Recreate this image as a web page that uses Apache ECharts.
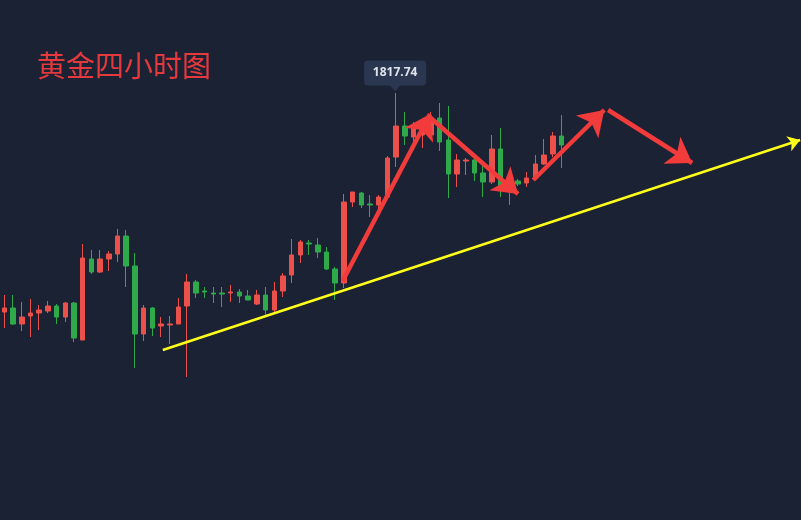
<!DOCTYPE html>
<html>
<head>
<meta charset="utf-8">
<script src="https://cdn.jsdelivr.net/npm/echarts@6/dist/echarts.min.js"></script>
<style>
html,body{margin:0;padding:0;background:#1b2234;}
#c{width:801px;height:520px;}
</style>
</head>
<body>
<div id="c"></div>
<script>
// ---- data ----
const titleText = '黄金四小时图';
const highLabel = 1817.74;
const highIndex = 45;
const totalSlots = 92;
// [open, close, low, high]
const opens  = [1784.90,1785.50,1783.10,1784.30,1784.75,1785.05,1785.80,1784.15,1786.25,1780.70,1792.85,1790.90,1792.85,1793.60,1796.30,1791.80,1781.60,1785.50,1782.80,1782.95,1783.10,1785.80,1789.40,1788.05,1787.75,1787.75,1787.75,1787.90,1787.30,1786.10,1787.45,1785.20,1788.05,1790.45,1793.45,1795.25,1794.95,1793.90,1791.35,1789.25,1801.40,1802.75,1801.10,1800.95,1802.15,1808.15,1812.80,1811.15,1811.45,1811.45,1814.00,1810.70,1805.60,1807.55,1807.70,1805.75,1804.40,1809.35,1803.20,1804.55,1804.25,1805.00,1807.10,1808.60,1811.30];
const closes = [1785.50,1783.10,1784.15,1784.75,1785.20,1785.80,1784.15,1786.25,1781.00,1793.00,1790.90,1792.85,1793.60,1796.30,1791.80,1781.60,1785.50,1782.50,1783.10,1783.10,1785.65,1789.40,1787.75,1787.90,1787.60,1787.60,1787.90,1787.30,1786.70,1787.45,1785.20,1788.05,1790.30,1793.45,1795.40,1795.10,1793.90,1791.35,1789.25,1801.40,1802.90,1800.95,1800.95,1802.15,1808.00,1812.80,1811.30,1812.50,1812.20,1814.00,1810.40,1805.60,1807.70,1807.70,1805.75,1804.40,1809.35,1803.50,1804.25,1804.10,1805.00,1807.10,1808.45,1811.30,1809.95];
const lows   = [1782.50,1782.95,1782.05,1781.15,1782.20,1784.75,1783.10,1783.40,1780.40,1780.70,1790.60,1790.75,1791.05,1792.40,1788.65,1776.50,1780.55,1781.30,1781.15,1780.10,1783.10,1775.15,1787.00,1787.00,1786.25,1785.65,1786.40,1786.25,1786.70,1785.95,1784.45,1784.75,1787.15,1789.25,1792.25,1793.45,1793.00,1791.20,1786.70,1788.50,1800.65,1800.50,1799.15,1800.20,1802.15,1806.65,1809.95,1809.20,1809.50,1811.15,1809.05,1802.00,1803.65,1805.45,1804.55,1802.15,1804.10,1802.15,1800.95,1803.80,1803.65,1804.70,1806.95,1808.15,1806.50];
const highs  = [1787.45,1787.45,1786.40,1786.85,1785.95,1786.55,1786.10,1786.40,1786.40,1795.10,1794.20,1794.20,1794.05,1797.35,1797.20,1793.75,1785.95,1785.65,1784.15,1784.30,1787.00,1790.60,1789.70,1788.65,1788.65,1788.65,1788.95,1788.35,1788.20,1788.20,1788.65,1789.40,1790.75,1795.85,1795.70,1795.70,1796.00,1794.65,1791.65,1802.60,1802.90,1802.90,1802.45,1802.45,1808.30,1817.74,1814.90,1813.40,1813.40,1814.90,1816.25,1815.80,1808.60,1808.00,1808.15,1806.95,1811.45,1812.50,1805.45,1804.85,1805.90,1808.45,1810.85,1811.90,1814.45];
// annotation arrows in [slot index, price]
const redArrows = [
  [[38.85, 1789.55], [48.9, 1814.6]],
  [[48.7, 1814.3], [59.0, 1802.6]],
  [[60.75, 1804.7], [68.9, 1815.2]],
  [[69.35, 1815.2], [79.0, 1807.25]]
];
const trendLine = [[18.2, 1779.2], [91.4, 1810.7]];

// ---- chart ----
const categories = Array.from({length: totalSlots}, (_, i) => 'K' + (i + 1));
const kData = opens.map((o, i) => [o, closes[i], lows[i], highs[i]]);

const chart = echarts.init(document.getElementById('c'), null, {renderer: 'canvas'});
const hidden = {show: false};
chart.setOption({
  backgroundColor: '#1b2234',
  animation: false,
  title: {
    text: titleText, left: 32, top: 46,
    textStyle: {color: '#e5393e', fontSize: 29, fontWeight: 'normal', fontFamily: 'Noto Sans CJK SC'}
  },
  grid: {left: 0, right: 0, top: 0, bottom: 0},
  xAxis: [
    {type: 'category', data: categories, boundaryGap: true, axisLine: hidden, axisTick: hidden, axisLabel: hidden, splitLine: hidden},
    {type: 'value', min: -0.5, max: totalSlots - 0.5, show: false, splitLine: hidden}
  ],
  yAxis: {type: 'value', min: 1753.7, max: 1831.7, show: false, splitLine: hidden},
  series: [
    {
      type: 'candlestick',
      data: kData,
      barWidth: 5,
      itemStyle: {color: '#eb504b', color0: '#2eaa4b', borderColor: '#eb504b', borderColor0: '#2eaa4b', borderWidth: 1},
      markPoint: {
        symbol: 'path://M4,0 H58 Q62,0 62,4 V21 Q62,25 58,25 H36 L31,31 L26,25 H4 Q0,25 0,21 V4 Q0,0 4,0 Z',
        symbolSize: [62, 31],
        symbolKeepAspect: false,
        symbolOffset: [-1, -17],
        itemStyle: {color: '#2b3750'},
        label: {show: true, color: '#dfe3ea', fontSize: 12, fontWeight: 'bold', fontFamily: 'Noto Sans', offset: [0, -3], formatter: (p) => p.value.toFixed(2)},
        data: [{coord: [highIndex, highLabel], value: highLabel}]
      }
    },
    {
      type: 'lines',
      coordinateSystem: 'cartesian2d',
      xAxisIndex: 1,
      z: 5,
      symbol: ['none', 'arrow'],
      symbolSize: 12,
      lineStyle: {color: '#ffff1a', width: 2.5, opacity: 1},
      data: [{coords: trendLine}]
    },
    {
      type: 'lines',
      coordinateSystem: 'cartesian2d',
      xAxisIndex: 1,
      z: 6,
      symbol: ['none', 'arrow'],
      symbolSize: [16, 24],
      lineStyle: {color: '#f23b3b', width: 4.5, opacity: 1},
      data: redArrows.map(c => ({coords: c}))
    }
  ]
});
</script>
</body>
</html>
